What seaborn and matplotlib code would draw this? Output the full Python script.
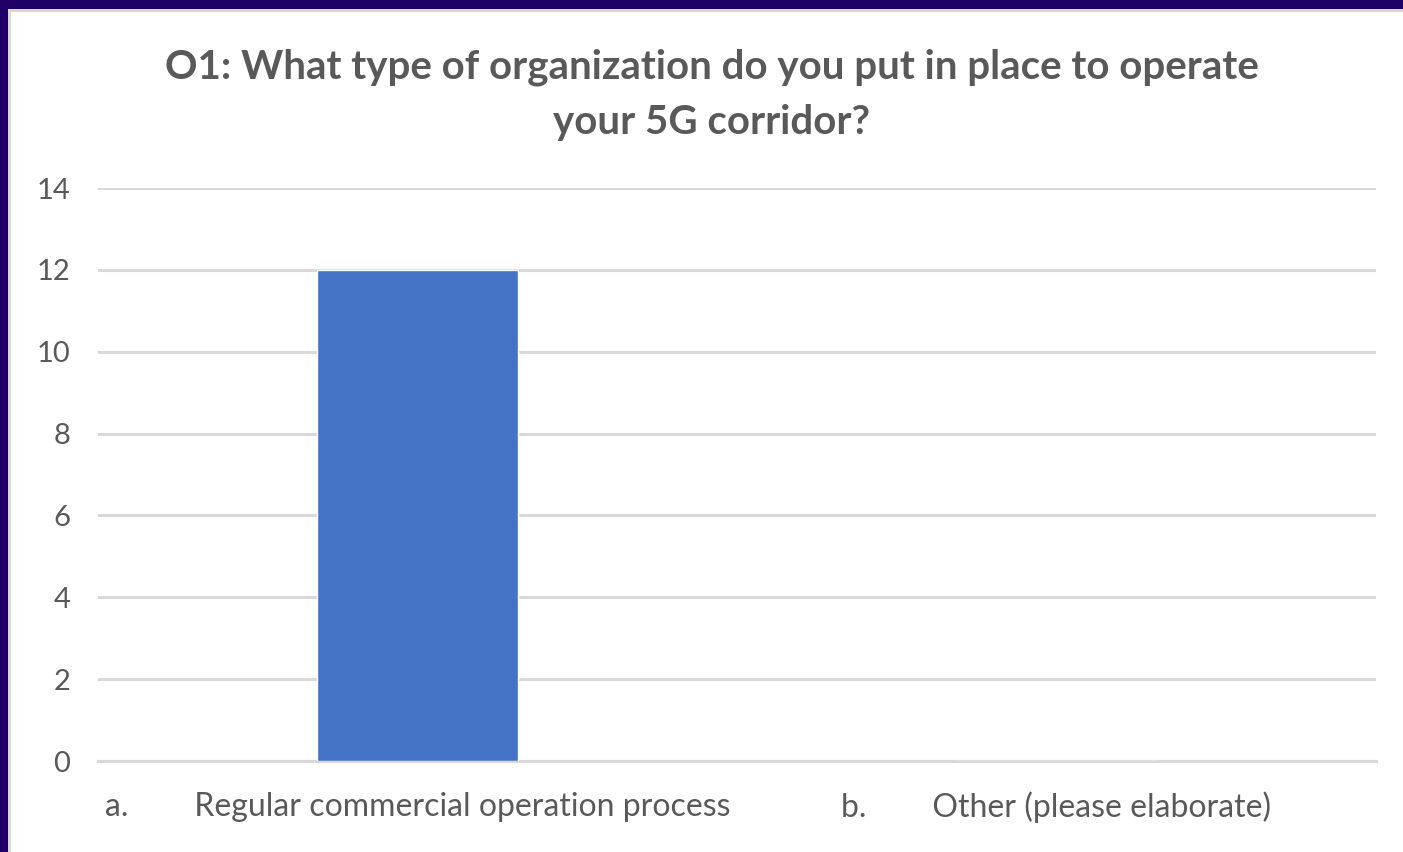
import matplotlib
matplotlib.use("Agg")
import matplotlib.pyplot as plt
import seaborn as sns
import pandas as pd
from matplotlib.patches import Rectangle

# Survey answers
categories = ["a.        Regular commercial operation process", "b.        Other (please elaborate)"]
counts = [12, 0]
y_ticks = [0, 2, 4, 6, 8, 10, 12, 14]
title = "O1: What type of organization do you put in place to operate\nyour 5G corridor?"

df = pd.DataFrame({"answer": categories, "count": counts})

sns.set_theme(style="white")
plt.rcParams["font.family"] = ["Lato", "DejaVu Sans"]

W, H = 1403, 852
fig = plt.figure(figsize=(W / 100, H / 100), dpi=100)
fig.patch.set_facecolor("white")

# Frame strips along the top and left edges
fig.patches.append(Rectangle((0, 1 - 9 / H), 1, 9 / H, transform=fig.transFigure,
                             facecolor="#1F0066", edgecolor="none", zorder=0))
fig.patches.append(Rectangle((0, 1 - 12 / H), 1, 3 / H, transform=fig.transFigure,
                             facecolor="#D9D9D9", edgecolor="none", zorder=0))
fig.patches.append(Rectangle((0, 0), 8 / W, 1, transform=fig.transFigure,
                             facecolor="#1F0066", edgecolor="none", zorder=1))
fig.patches.append(Rectangle((8 / W, 0), 3 / W, 1 - 9 / H, transform=fig.transFigure,
                             facecolor="#D9D9D9", edgecolor="none", zorder=1))

ax = fig.add_axes([98 / W, 91 / H, (1376 - 98) / W, (761 - 188) / H])
sns.barplot(data=df, x="answer", y="count", color="#4472C4", width=0.314,
            saturation=1, ax=ax, zorder=3)

ax.set_ylim(0, 14)
ax.set_xlim(-0.5, 1.5)
ax.set_yticks(y_ticks)
ax.set_yticklabels([str(v) for v in y_ticks])
ax.set_xlabel("")
ax.set_ylabel("")

ax.grid(axis="y", color="#D9D9D9", linewidth=2.2, zorder=0)
ax.set_axisbelow(True)
for side in ["top", "right", "left"]:
    ax.spines[side].set_visible(False)
ax.spines["bottom"].set_color("#D9D9D9")
ax.spines["bottom"].set_linewidth(2.2)

ax.tick_params(axis="y", length=0, pad=20, labelsize=21, labelcolor="#595959")
ax.tick_params(axis="x", length=0, pad=22, labelsize=23, labelcolor="#595959")

fig.text((167 + 1257) / 2 / W, 1 - 49 / H, title, ha="center", va="top",
         fontsize=29, fontweight="bold", color="#595959", linespacing=1.57)

fig.savefig("out.png", dpi=100)
